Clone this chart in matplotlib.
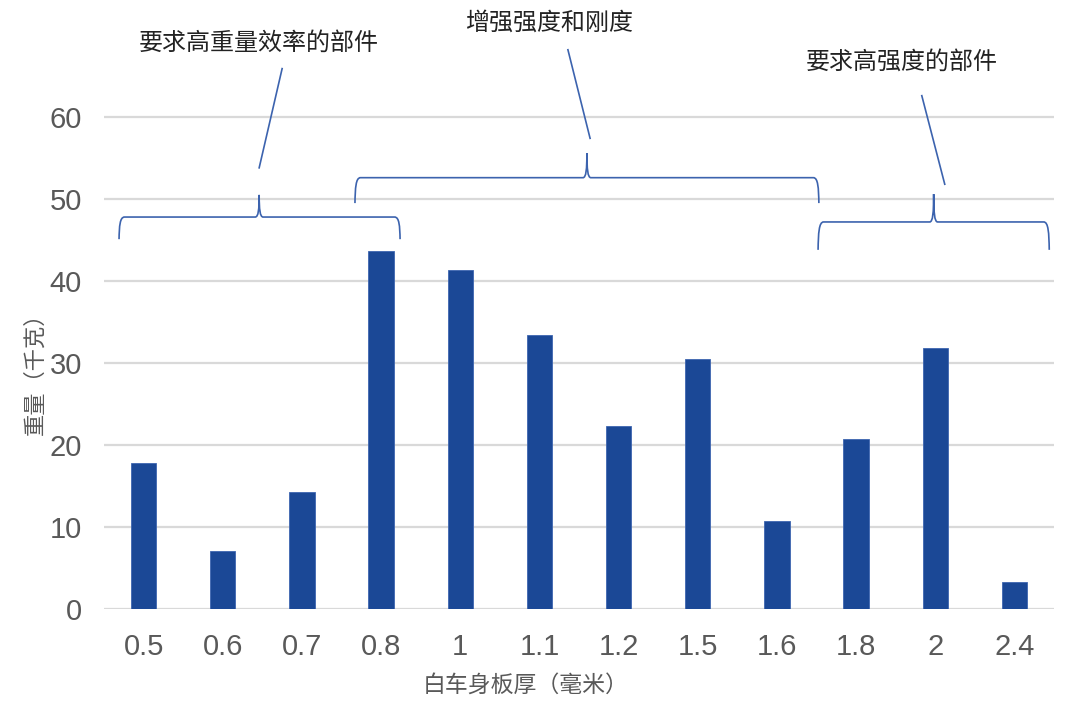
import matplotlib
matplotlib.use("Agg")
import matplotlib.pyplot as plt
from matplotlib.path import Path
from matplotlib.patches import PathPatch

categories = ["0.5", "0.6", "0.7", "0.8", "1", "1.1", "1.2", "1.5", "1.6", "1.8", "2", "2.4"]
weights = [17.8, 7.1, 14.3, 43.7, 41.4, 33.4, 22.3, 30.5, 10.7, 20.7, 31.8, 3.3]
y_ticks = [0, 10, 20, 30, 40, 50, 60]
group_labels = ["要求高重量效率的部件", "增强强度和刚度", "要求高强度的部件"]

FONT = ["Liberation Sans", "Noto Sans CJK SC", "DejaVu Sans"]
CJK = ["Noto Sans CJK SC", "DejaVu Sans"]
plt.rcParams["font.family"] = FONT

BAR = "#1B4896"
BRACE = "#3C63AE"
GRAY = "#595959"

fig = plt.figure(figsize=(10.8, 7.03), dpi=100)
ax = fig.add_axes([104 / 1080, (703 - 609) / 703, 950 / 1080, 574 / 703])

x = list(range(len(categories)))
ax.bar(x, weights, width=0.32, color=BAR, edgecolor="#3E66B0", linewidth=0.6, zorder=3)
ax.set_xlim(-0.5, len(categories) - 0.5)
ax.set_ylim(0, 70)
ax.set_yticks(y_ticks)
ax.set_xticks(x)
ax.set_xticklabels(categories)
ax.yaxis.grid(True, color="#D9D9D9", linewidth=1.6, zorder=0)
ax.set_axisbelow(True)
for s in ax.spines.values():
    s.set_visible(False)
ax.tick_params(axis="both", length=0, labelsize=21, labelcolor=GRAY)
ax.tick_params(axis="x", pad=17)
ax.tick_params(axis="y", pad=16)

fig.text(526 / 1080, 1 - 685 / 703, "白车身板厚（毫米）", family=CJK, fontsize=16.5,
         color=GRAY, ha="center", va="center")
fig.text(35 / 1080, 1 - 368 / 703, "重量（千克）", family=CJK, fontsize=16,
         color=GRAY, ha="center", va="center", rotation=90)

# brace specs: x0, x1, xc, ytip, yflat, ypeak
braces = [
    (-0.31, 3.24, 1.46, 45.1, 47.8, 50.5),
    (2.67, 8.53, 5.60, 49.5, 52.6, 55.6),
    (8.52, 11.44, 9.98, 43.8, 47.2, 50.6),
]
leaders = [
    ((1.46, 53.8), (1.75, 65.9)),
    ((5.64, 57.4), (5.36, 68.2)),
    ((10.12, 51.8), (9.83, 62.6)),
]
label_pos = [(1.45, 69.1), (5.12, 71.5), (9.57, 66.7)]

cw = 0.07
pw = 0.05
for (x0, x1, xc, yt, yf, yp) in braces:
    h = yf - yt
    ph = yp - yf
    verts = [
        (x0, yt),
        (x0 + cw * 0.05, yt + h * 0.6), (x0 + cw * 0.15, yf), (x0 + cw, yf),
        (xc - pw, yf),
        (xc - pw * 0.2, yf), (xc, yf + ph * 0.35), (xc, yp),
        (xc, yf + ph * 0.35), (xc + pw * 0.2, yf), (xc + pw, yf),
        (x1 - cw, yf),
        (x1 - cw * 0.15, yf), (x1 - cw * 0.05, yt + h * 0.6), (x1, yt),
    ]
    codes = [Path.MOVETO,
             Path.CURVE4, Path.CURVE4, Path.CURVE4,
             Path.LINETO,
             Path.CURVE4, Path.CURVE4, Path.CURVE4,
             Path.CURVE4, Path.CURVE4, Path.CURVE4,
             Path.LINETO,
             Path.CURVE4, Path.CURVE4, Path.CURVE4]
    ax.add_patch(PathPatch(Path(verts, codes), fill=False, edgecolor=BRACE,
                           linewidth=1.2, clip_on=False, zorder=4))

for (a, b) in leaders:
    ax.plot([a[0], b[0]], [a[1], b[1]], color=BRACE, linewidth=1.2, clip_on=False, zorder=4)

for (pos, txt) in zip(label_pos, group_labels):
    ax.text(pos[0], pos[1], txt, family=CJK, fontsize=17.3, color="#222222",
            ha="center", va="center", clip_on=False)

fig.savefig("out.png", dpi=100)
